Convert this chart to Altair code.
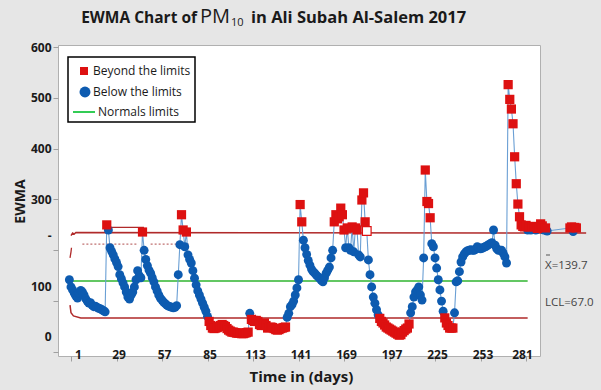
import altair as alt
import pandas as pd

# ---------------- text ----------------
title_main = "EWMA Chart of"
title_pm = "PM"
title_sub = "10"
title_rest = "in Ali Subah Al-Salem 2017"
x_title = "Time in (days)"
y_title = "EWMA"
legend_labels = ["Beyond the limits", "Below the limits", "Normals limits"]
x_ticks = [1, 29, 57, 85, 113, 141, 169, 197, 225, 253, 281]
y_ticks = [0, 100, 200, 300, 400, 500, 600]
center_label = "X=139.7"
lcl_label = "LCL=67.0"

# ---------------- limits ----------------
center_value = 139.7
center_days = [1, 282]
lcl_days = [0.4, 1, 2.5, 7, 282]
lcl_values = [92, 77, 71, 67, 67]
ucl_days = [1, 2, 3, 4, 318]
ucl_values = [229, 234, 232, 235, 234]
ucl_start_days = [0.4, 1.0, 1.3]
ucl_start_values = [185, 197, 205]
step_start = [23.8]
step_end = [45.9]
step_value = [245]
dotted_start = [8, 50]
dotted_end = [42, 74]
dotted_value = [212, 212]

# ---------------- EWMA series ----------------
days = list(range(0, 295)) + list(range(308, 313))
ewma = [
    142, 128, 122, 116, 110, 106, 116, 121, 118, 112,
    105, 100, 96, 97, 92, 89, 90, 88, 86, 85,
    83, 81, 79, 250, 240, 205, 198, 191, 183, 176,
    168, 152, 144, 136, 128, 118, 108, 104, 112, 118,
    128, 142, 160, 150, 146, 236, 200, 182, 170, 161,
    155, 146, 138, 128, 120, 112, 106, 102, 98, 95,
    92, 90, 89, 88, 87, 88, 91, 152, 211, 270,
    240, 207, 236, 191, 182, 175, 160, 145, 132, 120,
    112, 104, 96, 88, 80, 70, 60, 52, 47, 46,
    47, 48, 50, 52, 54, 52, 50, 46, 43, 41,
    39, 39, 38, 37, 37, 37, 36, 36, 37, 38,
    39, 76, 64, 62, 60, 62, 60, 54, 52, 55,
    57, 52, 47, 48, 49, 48, 46, 44, 43, 44,
    46, 47, 48, 49, 68, 76, 89, 93, 100, 112,
    126, 142, 290, 256, 220, 205, 192, 180, 171, 163,
    158, 155, 151, 148, 145, 141, 138, 146, 155, 161,
    167, 185, 200, 256, 270, 262, 266, 283, 270, 240,
    205, 244, 205, 200, 246, 197, 244, 240, 191, 187,
    299, 313, 256, 238, 181, 152, 128, 108, 96, 83,
    73, 66, 60, 57, 53, 49, 47, 45, 43, 41,
    39, 37, 35, 33, 34, 39, 42, 45, 47, 55,
    77, 89, 108, 118, 122, 128, 112, 102, 185, 358,
    296, 292, 264, 213, 207, 185, 165, 142, 122, 100,
    80, 67, 57, 52, 47, 47, 47, 77, 138, 140,
    158, 177, 187, 193, 197, 199, 200, 201, 200, 200,
    202, 207, 205, 203, 204, 206, 207, 209, 211, 213,
    215, 240, 210, 203, 200, 200, 200, 194, 187, 175,
    526, 497, 478, 449, 384, 331, 291, 266, 250, 247,
    246, 249, 240, 246, 240, 247, 246, 240, 243, 246,
    252, 248, 240, 244, 238,
    244, 246, 237, 245, 244,
]
# R = beyond the limits, B = below the limits, W = open marker
status_codes = (
    "BBBBBBBBBB BBBBBBBBBB BBBRBBBBBB BBBBBBBBBB BBBBBRBBBB "
    "BBBBBBBBBB BBBBBBBBBR RBRBBBBBBB BBBBBBRRRR RRRRRRRRRR "
    "RRRRRRRRRR RBRRRRRRRR RRRRRRRRRR RRRRBBBBBB BBRRBBBBBB "
    "BBBBBBBBBB BBBRRRRRRR BRBBRBRRBB RRRWBBBBBB BRRRRRRRRR "
    "RRRRRRRRRR BBBBBBBBBR RRRBBBBBBB BRRRRRRBBB BBBBBBBBBB "
    "BBBBBBBBBB BBBBBBBBBB RRRRRRRRRR RRBRBRRBRR RRBRB "
    "RRBRR"
)
status = list(status_codes.replace(" ", ""))

df = pd.DataFrame({"day": days, "ewma": ewma, "status": status})
df_center = pd.DataFrame({"day": center_days, "v": [center_value] * len(center_days)})
df_lcl = pd.DataFrame({"day": lcl_days, "v": lcl_values})
df_ucl = pd.DataFrame({"day": ucl_days, "v": ucl_values})
df_ucl0 = pd.DataFrame({"day": ucl_start_days, "v": ucl_start_values})
df_step = pd.DataFrame({"s": step_start, "e": step_end, "v": step_value})
df_dot = pd.DataFrame({"s": dotted_start, "e": dotted_end, "v": dotted_value})

# ---------------- styles ----------------
FONT = "Open Sans"
RED = "#dd1111"
BLUE = "#0d5bb0"
LINE_BLUE = "#6a9fd4"
LIMIT_RED = "#b02a2a"
GREEN = "#2fb52f"
TXT = "#1a1a1a"

xs = alt.Scale(domain=[-7, 289.6], nice=False, zero=False)
ys = alt.Scale(domain=[-8, 604], nice=False, zero=False)

x_axis = alt.Axis(
    values=x_ticks, title=x_title, grid=False, domain=False,
    labelFont=FONT, labelFontWeight="bold", labelFontSize=12, labelColor=TXT,
    labelBaseline="alphabetic", labelPadding=-3, tickSize=5, tickColor="#a0a0a0",
    labelOffset={"condition": [
        {"test": "datum.value == 1", "value": 7},
        {"test": "datum.value == 281", "value": -4},
    ], "value": 2},
    labelFlush=False, labelOverlap=False,
    titleFont=FONT, titleFontWeight="bold", titleFontSize=15, titleColor=TXT,
    titleX=243, titleY=20, titleBaseline="middle", titleAlign="center",
)
y_axis = alt.Axis(
    values=y_ticks, title=y_title, grid=False, domain=False,
    labelFont=FONT, labelFontWeight="bold", labelFontSize=12, labelColor=TXT,
    labelPadding=2, tickSize=5, tickColor="#a0a0a0",
    labelExpr="datum.value == 200 ? '-\u2007\u2007' : datum.label",
    labelOffset={"condition": {"test": "datum.value <= 200", "value": -15}, "value": 0},
    labelFlush=False, labelOverlap=False,
    titleFont=FONT, titleFontWeight="bold", titleFontSize=14, titleColor=TXT,
    titleX=-38, titleY=156, titleBaseline="middle", titleAlign="center", titleAngle=-90,
)


def X(field):
    return alt.X(f"{field}:Q", scale=xs, axis=x_axis)


def X2(field):
    return alt.X2(f"{field}:Q")


def Y(field):
    return alt.Y(f"{field}:Q", scale=ys, axis=y_axis)


layers = []

# limit lines
layers.append(alt.Chart(df_center).mark_line(color=GREEN, strokeWidth=1.5).encode(x=X("day"), y=Y("v")))
layers.append(alt.Chart(df_lcl).mark_line(color=LIMIT_RED, strokeWidth=1.5).encode(x=X("day"), y=Y("v")))
layers.append(alt.Chart(df_ucl).mark_line(color=LIMIT_RED, strokeWidth=1.5).encode(x=X("day"), y=Y("v")))
layers.append(alt.Chart(df_ucl0).mark_line(color=LIMIT_RED, strokeWidth=1.3).encode(x=X("day"), y=Y("v")))
layers.append(alt.Chart(df_step).mark_rule(color=LIMIT_RED, strokeWidth=1.3).encode(x=X("s"), x2=X2("e"), y=Y("v")))
layers.append(alt.Chart(df_dot).mark_rule(color="#c07070", strokeWidth=1.2, strokeDash=[2, 2]).encode(x=X("s"), x2=X2("e"), y=Y("v")))

# data line and markers
layers.append(alt.Chart(df).mark_line(color=LINE_BLUE, strokeWidth=1.1).encode(x=X("day"), y=Y("ewma")))
layers.append(
    alt.Chart(df).transform_filter("datum.status == 'B'")
    .mark_point(shape="circle", filled=True, color=BLUE, size=80, opacity=1)
    .encode(x=X("day"), y=Y("ewma"))
)
layers.append(
    alt.Chart(df).transform_filter("datum.status == 'R'")
    .mark_point(shape="square", filled=True, color=RED, size=85, opacity=1)
    .encode(x=X("day"), y=Y("ewma"))
)
layers.append(
    alt.Chart(df).transform_filter("datum.status == 'W'")
    .mark_point(shape="square", filled=True, fill="white", stroke=RED, strokeWidth=1.2, size=75, opacity=1)
    .encode(x=X("day"), y=Y("ewma"))
)

# decorations (title pieces, legend, right labels)
one = alt.Data(values=[{}])


def txt(text, x, y, size, weight="normal", align="left", baseline="middle", color=TXT):
    return alt.Chart(one).mark_text(
        text=text, font=FONT, fontSize=size, fontWeight=weight, align=align,
        baseline=baseline, color=color,
    ).encode(x=alt.value(x), y=alt.value(y))


layers.append(txt(title_main, 139, -22, 15.5, "bold", "right", "alphabetic"))
layers.append(txt(title_pm, 142, -22, 20, "normal", "left", "alphabetic"))
layers.append(txt(title_sub, 173, -19, 11, "normal", "left", "alphabetic"))
layers.append(txt(title_rest, 193, -22, 16.5, "bold", "left", "alphabetic"))

# legend box
layers.append(
    alt.Chart(one).mark_rect(fill="white", stroke="black", strokeWidth=1.5)
    .encode(x=alt.value(10), x2=alt.value(137), y=alt.value(12), y2=alt.value(77))
)
layers.append(
    alt.Chart(one).mark_point(shape="square", filled=True, color=RED, size=64, opacity=1)
    .encode(x=alt.value(26), y=alt.value(26))
)
layers.append(
    alt.Chart(one).mark_point(shape="circle", filled=True, color=BLUE, size=120, opacity=1)
    .encode(x=alt.value(27), y=alt.value(47))
)
layers.append(
    alt.Chart(one).mark_rule(color="#33cc55", strokeWidth=2)
    .encode(x=alt.value(15), x2=alt.value(37), y=alt.value(67))
)
layers.append(txt(legend_labels[0], 35, 26, 12))
layers.append(txt(legend_labels[1], 35, 47, 12))
layers.append(txt(legend_labels[2], 40, 67, 12))

# right-side labels
layers.append(
    alt.Chart(one).mark_rule(color="#555555", strokeWidth=1)
    .encode(x=alt.value(488), x2=alt.value(492), y=alt.value(210))
)
layers.append(txt(center_label, 487, 221, 11.5, color="#444444"))
layers.append(txt(lcl_label, 487, 258, 11.5, color="#444444"))

chart = alt.layer(*layers).properties(
    width=482,
    height=311,
    padding={"left": 58, "top": 45, "right": 61, "bottom": 34},
    autosize=alt.AutoSizeParams(type="none"),
).configure(
    background="#e6e6e6",
).configure_view(
    fill="white", stroke="#b0b0b0", strokeWidth=1,
)

chart.save("out.html", embed_options={"renderer": "svg", "actions": False})
